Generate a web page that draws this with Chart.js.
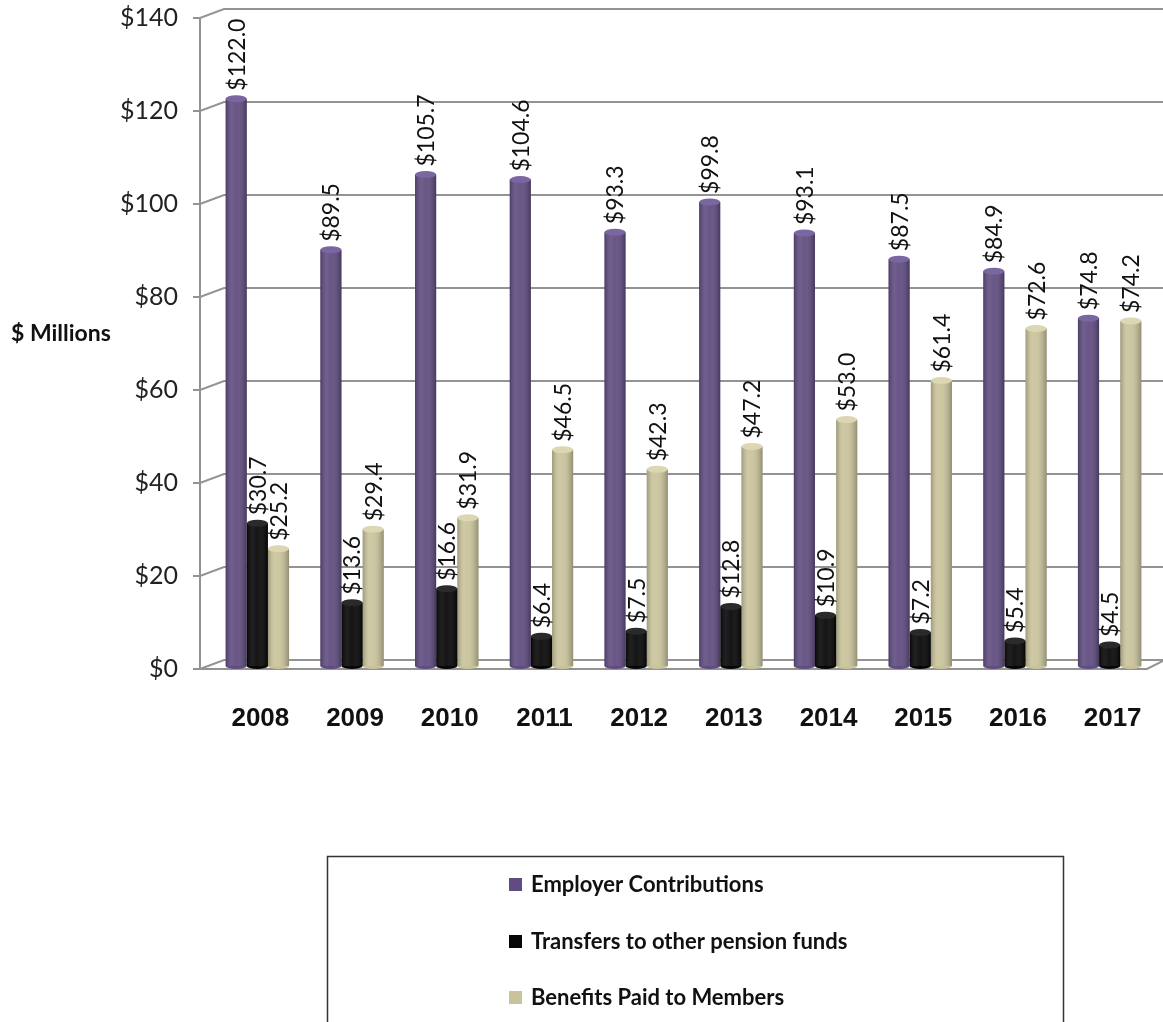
<!DOCTYPE html>
<html>
<head>
<meta charset="utf-8">
<script src="https://cdn.jsdelivr.net/npm/chart.js@4/dist/chart.umd.min.js"></script>
<style>
  html, body { margin: 0; padding: 0; background: #ffffff; }
  #wrap { width: 1163px; height: 1022px; position: relative; }
</style>
</head>
<body>
<div id="wrap"><canvas id="c" width="1163" height="1022"></canvas></div>
<script>
const categories = ['2008','2009','2010','2011','2012','2013','2014','2015','2016','2017'];
const employerContributions = [122.0, 89.5, 105.7, 104.6, 93.3, 99.8, 93.1, 87.5, 84.9, 74.8];
const transfersToOtherFunds = [30.7, 13.6, 16.6, 6.4, 7.5, 12.8, 10.9, 7.2, 5.4, 4.5];
const benefitsPaid = [25.2, 29.4, 31.9, 46.5, 42.3, 47.2, 53.0, 61.4, 72.6, 74.2];
const seriesNames = ['Employer Contributions', 'Transfers to other pension funds', 'Benefits Paid to Members'];
const seriesColors = ['#604C80', '#060606', '#C9C39B'];
const capColors = ['#7A66A0', '#2a2a2a', '#DCD6B2'];
const yMin = 0, yMax = 140, yStep = 20;
const yTitle = '$ Millions';

const GRID = '#939393';

const framePlugin = {
  id: 'frame3d',
  beforeDatasetsDraw(chart) {
    const ctx = chart.ctx;
    const y = chart.scales.y;
    const axX = 200, dx = 24, dy = 9, right = 1163;
    ctx.save();
    ctx.strokeStyle = GRID;
    ctx.lineWidth = 2;
    ctx.beginPath();
    ctx.moveTo(axX, y.getPixelForValue(yMax) + 3);
    ctx.lineTo(axX, y.getPixelForValue(yMin) + 3);
    ctx.stroke();
    y.ticks.forEach(t => {
      const fy = y.getPixelForValue(t.value) + 3;
      ctx.beginPath();
      ctx.moveTo(axX - 7, fy);
      ctx.lineTo(axX, fy);
      ctx.lineTo(axX + dx, fy - dy);
      ctx.lineTo(right, fy - dy);
      ctx.stroke();
    });
    const fy0 = y.getPixelForValue(yMin) + 3;
    ctx.beginPath();
    ctx.moveTo(axX, fy0);
    ctx.lineTo(1147, fy0);
    ctx.lineTo(1163, fy0 - 8);
    ctx.stroke();
    ctx.restore();
  }
};

const barStylePlugin = {
  id: 'barStyle',
  afterDatasetsDraw(chart) {
    const ctx = chart.ctx;
    chart.data.datasets.forEach((ds, di) => {
      const meta = chart.getDatasetMeta(di);
      meta.data.forEach((el) => {
        const w = el.width, l = el.x - w / 2, top = el.y, bot = el.base;
        const g = ctx.createLinearGradient(l, 0, l + w, 0);
        g.addColorStop(0, 'rgba(0,0,0,0.22)');
        g.addColorStop(0.3, 'rgba(255,255,255,0.10)');
        g.addColorStop(0.5, 'rgba(255,255,255,0.06)');
        g.addColorStop(1, 'rgba(0,0,0,0.28)');
        ctx.save();
        ctx.fillStyle = g;
        ctx.fillRect(l, top, w, bot - top);
        ctx.beginPath();
        ctx.ellipse(el.x, top, w / 2, 3.5, 0, 0, Math.PI * 2);
        ctx.fillStyle = capColors[di];
        ctx.fill();
        ctx.beginPath();
        ctx.ellipse(el.x, bot, w / 2, 3, 0, 0, Math.PI);
        ctx.fillStyle = seriesColors[di];
        ctx.fill();
        ctx.restore();
      });
    });
    ctx.save();
    ctx.font = '23px Lato';
    ctx.fillStyle = '#111';
    ctx.textAlign = 'left';
    ctx.textBaseline = 'middle';
    chart.data.datasets.forEach((ds, di) => {
      const meta = chart.getDatasetMeta(di);
      meta.data.forEach((el, i) => {
        ctx.save();
        ctx.translate(el.x + 1, el.y - 8);
        ctx.rotate(-Math.PI / 2);
        ctx.fillText('$' + ds.data[i].toFixed(1), 0, 0);
        ctx.restore();
      });
    });
    ctx.restore();
  },
  afterDraw(chart) {
    const ctx = chart.ctx;
    ctx.save();
    ctx.font = 'bold 23px Lato';
    ctx.fillStyle = '#111';
    ctx.textAlign = 'left';
    ctx.textBaseline = 'middle';
    ctx.fillText(yTitle, 11, 334);
    ctx.strokeStyle = '#333';
    ctx.lineWidth = 1.5;
    ctx.strokeRect(327.5, 856.5, 736, 200);
    ctx.font = 'bold 22px Lato';
    const ys = [885, 942, 998];
    chart.data.datasets.forEach((ds, di) => {
      ctx.fillStyle = ds.backgroundColor;
      ctx.fillRect(509, ys[di] - 7, 13, 13);
      ctx.fillStyle = '#111';
      ctx.fillText(ds.label, 531, ys[di]);
    });
    ctx.restore();
  }
};

new Chart(document.getElementById('c'), {
  type: 'bar',
  data: {
    labels: categories,
    datasets: [
      { label: seriesNames[0], data: employerContributions, backgroundColor: seriesColors[0] },
      { label: seriesNames[1], data: transfersToOtherFunds, backgroundColor: seriesColors[1] },
      { label: seriesNames[2], data: benefitsPaid, backgroundColor: seriesColors[2] }
    ]
  },
  options: {
    responsive: false,
    animation: false,
    events: [],
    layout: { padding: { left: 0, right: 6, top: 15, bottom: 296 } },
    datasets: { bar: { categoryPercentage: 0.67, barPercentage: 1.0, borderWidth: 0 } },
    plugins: { legend: { display: false }, tooltip: { enabled: false } },
    scales: {
      x: {
        grid: { display: false, drawTicks: false },
        border: { display: false },
        ticks: { font: { family: 'Liberation Sans', weight: 'bold', size: 26 }, color: '#111', padding: 37, labelOffset: 3 },
        afterFit(s) { s.height = 60; s.paddingLeft = 0; s.paddingRight = 0; }
      },
      y: {
        min: yMin, max: yMax,
        grid: { display: false, drawTicks: false },
        border: { display: false },
        ticks: {
          stepSize: yStep,
          font: { family: 'Lato', size: 25 },
          color: '#222',
          padding: 32,
          labelOffset: 3,
          callback: v => '$' + v
        },
        afterFit(s) { s.width = 210; s.paddingTop = 0; s.paddingBottom = 0; }
      }
    }
  },
  plugins: [framePlugin, barStylePlugin]
});
</script>
</body>
</html>
